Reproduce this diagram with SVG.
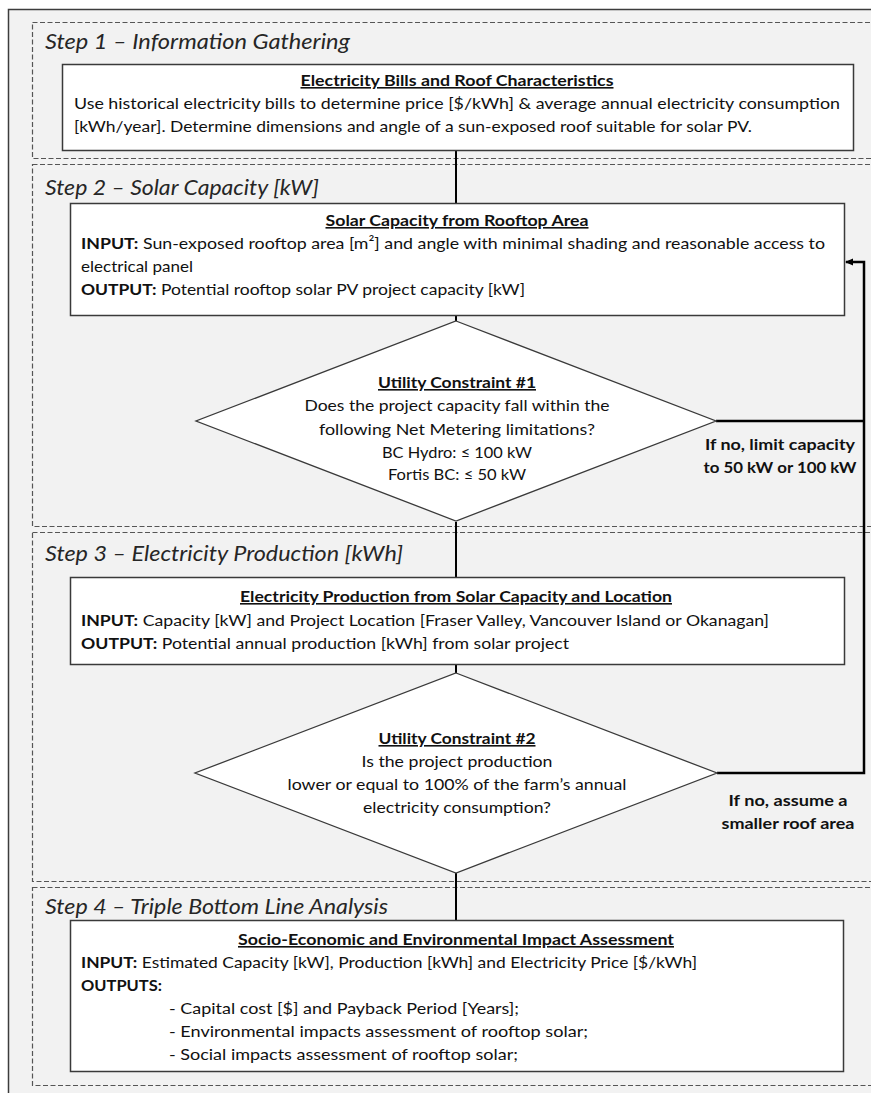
<svg xmlns="http://www.w3.org/2000/svg" width="871" height="1093" viewBox="0 0 871 1093">
<style>
.frame{fill:#f2f2f2;stroke:#3c3c3c;stroke-width:1.5}
.step{fill:none;stroke:#555;stroke-width:1.2;stroke-dasharray:5 2.5}
.box{fill:#fff;stroke:#3a3a3a;stroke-width:1.5}
.dia{fill:#fff;stroke:#3a3a3a;stroke-width:1.3}
.con{fill:none;stroke:#000;stroke-width:2}
.fb{fill:none;stroke:#000;stroke-width:2.5}
text{font-family:Lato,"Open Sans","Liberation Sans",sans-serif;font-size:16px;fill:#111}
.st{font-size:21px;font-style:italic;font-weight:400;fill:#262626}
.t{font-weight:bold;text-decoration:underline;text-anchor:middle}
.c{text-anchor:middle}
.b{font-weight:bold}
.lab{font-weight:bold;text-anchor:middle;font-size:15.5px}
</style>
<defs>
<marker id="ah" markerWidth="8" markerHeight="8" refX="7" refY="4" orient="auto" markerUnits="userSpaceOnUse">
<path d="M0,0.5 L8,4 L0,7.5 Z" fill="#000"/>
</marker>
</defs>

<rect class="frame" x="8.5" y="9.5" width="900" height="1100"/>

<g id="step1">
<rect class="step" x="32.5" y="22.5" width="880" height="136"/>
<text class="st" x="45" y="49" textLength="305" lengthAdjust="spacingAndGlyphs">Step 1 – Information Gathering</text>
</g>
<g id="step2">
<rect class="step" x="32.5" y="164.5" width="880" height="362"/>
<text class="st" x="45" y="195" textLength="274" lengthAdjust="spacingAndGlyphs">Step 2 – Solar Capacity [kW]</text>
</g>
<g id="step3">
<rect class="step" x="32.5" y="532.5" width="880" height="349"/>
<text class="st" x="45" y="561" textLength="358" lengthAdjust="spacingAndGlyphs">Step 3 – Electricity Production [kWh]</text>
</g>
<g id="step4">
<rect class="step" x="32.5" y="887.5" width="880" height="198"/>
<text class="st" x="45" y="914" textLength="343" lengthAdjust="spacingAndGlyphs">Step 4 – Triple Bottom Line Analysis</text>
</g>

<g id="connectors">
<line class="con" x1="456" y1="151" x2="456" y2="203"/>
<line class="con" x1="456" y1="316" x2="456" y2="321"/>
<line class="con" x1="456" y1="522" x2="456" y2="577"/>
<line class="con" x1="456" y1="665" x2="456" y2="673"/>
<line class="con" x1="456" y1="873" x2="456" y2="920"/>
<line class="fb" x1="716" y1="421" x2="864" y2="421"/>
<polyline class="fb" points="717,773 864,773 864,262 846,262" marker-end="url(#ah)"/>
</g>

<g id="box1">
<rect class="box" x="62.5" y="64.5" width="791" height="86"/>
<text class="t" x="457" y="86" textLength="313" lengthAdjust="spacingAndGlyphs">Electricity Bills and Roof Characteristics</text>
<text x="74" y="109" textLength="766" lengthAdjust="spacingAndGlyphs">Use historical electricity bills to determine price [$/kWh] &amp; average annual electricity consumption</text>
<text x="74" y="132" textLength="678" lengthAdjust="spacingAndGlyphs">[kWh/year]. Determine dimensions and angle of a sun-exposed roof suitable for solar PV.</text>
</g>

<g id="box2">
<rect class="box" x="70.5" y="203.5" width="774" height="112"/>
<text class="t" x="457" y="226" textLength="263" lengthAdjust="spacingAndGlyphs">Solar Capacity from Rooftop Area</text>
<text x="81" y="249" textLength="744" lengthAdjust="spacingAndGlyphs"><tspan class="b">INPUT:</tspan> Sun-exposed rooftop area [m²] and angle with minimal shading and reasonable access to</text>
<text x="81" y="272" textLength="112" lengthAdjust="spacingAndGlyphs">electrical panel</text>
<text x="81" y="295" textLength="444" lengthAdjust="spacingAndGlyphs"><tspan class="b">OUTPUT:</tspan> Potential rooftop solar PV project capacity  [kW]</text>
</g>

<g id="decision1">
<polygon class="dia" points="456,321 716,421 456,521 196,421"/>
<text class="t" x="457" y="388" textLength="158" lengthAdjust="spacingAndGlyphs">Utility Constraint #1</text>
<text class="c" x="457" y="411" textLength="305" lengthAdjust="spacingAndGlyphs">Does the project capacity fall within the</text>
<text class="c" x="457" y="435" textLength="276" lengthAdjust="spacingAndGlyphs">following Net Metering limitations?</text>
<text class="c" x="457" y="458" textLength="150" lengthAdjust="spacingAndGlyphs">BC Hydro: ≤ 100 kW</text>
<text class="c" x="457" y="480" textLength="138" lengthAdjust="spacingAndGlyphs">Fortis BC: ≤ 50 kW</text>
</g>

<g id="label1">
<text class="lab" x="780" y="450" textLength="150" lengthAdjust="spacingAndGlyphs">If no, limit capacity</text>
<text class="lab" x="780" y="473" textLength="153" lengthAdjust="spacingAndGlyphs">to 50 kW or 100 kW</text>
</g>

<g id="box3">
<rect class="box" x="70.5" y="577.5" width="774" height="87"/>
<text class="t" x="456" y="602" textLength="432" lengthAdjust="spacingAndGlyphs">Electricity Production from Solar Capacity and Location</text>
<text x="81" y="626" textLength="688" lengthAdjust="spacingAndGlyphs"><tspan class="b">INPUT:</tspan> Capacity [kW] and Project Location [Fraser Valley, Vancouver Island or Okanagan]</text>
<text x="81" y="649" textLength="488" lengthAdjust="spacingAndGlyphs"><tspan class="b">OUTPUT:</tspan> Potential annual production [kWh] from solar project</text>
</g>

<g id="decision2">
<polygon class="dia" points="456,673 717,773 456,873 195,773"/>
<text class="t" x="457" y="744" textLength="157" lengthAdjust="spacingAndGlyphs">Utility Constraint #2</text>
<text class="c" x="457" y="767" textLength="191" lengthAdjust="spacingAndGlyphs">Is the project production</text>
<text class="c" x="457" y="790" textLength="339" lengthAdjust="spacingAndGlyphs">lower or equal to 100% of the farm’s annual</text>
<text class="c" x="457" y="813" textLength="188" lengthAdjust="spacingAndGlyphs">electricity consumption?</text>
</g>

<g id="label2">
<text class="lab" x="788" y="806" textLength="119" lengthAdjust="spacingAndGlyphs">If no, assume a</text>
<text class="lab" x="788" y="829" textLength="133" lengthAdjust="spacingAndGlyphs">smaller roof area</text>
</g>

<g id="box4">
<rect class="box" x="70.5" y="920.5" width="773" height="151"/>
<text class="t" x="456" y="945" textLength="436" lengthAdjust="spacingAndGlyphs">Socio-Economic and Environmental Impact Assessment</text>
<text x="81" y="968" textLength="616" lengthAdjust="spacingAndGlyphs"><tspan class="b">INPUT:</tspan> Estimated Capacity [kW], Production [kWh] and Electricity Price [$/kWh]</text>
<text class="b" x="81" y="991" textLength="81" lengthAdjust="spacingAndGlyphs">OUTPUTS:</text>
<text x="169" y="1014" textLength="350" lengthAdjust="spacingAndGlyphs">-  Capital cost [$] and Payback Period [Years];</text>
<text x="169" y="1037" textLength="419" lengthAdjust="spacingAndGlyphs">-  Environmental impacts assessment of rooftop solar;</text>
<text x="169" y="1060" textLength="349" lengthAdjust="spacingAndGlyphs">-  Social impacts assessment of rooftop solar;</text>
</g>
</svg>
